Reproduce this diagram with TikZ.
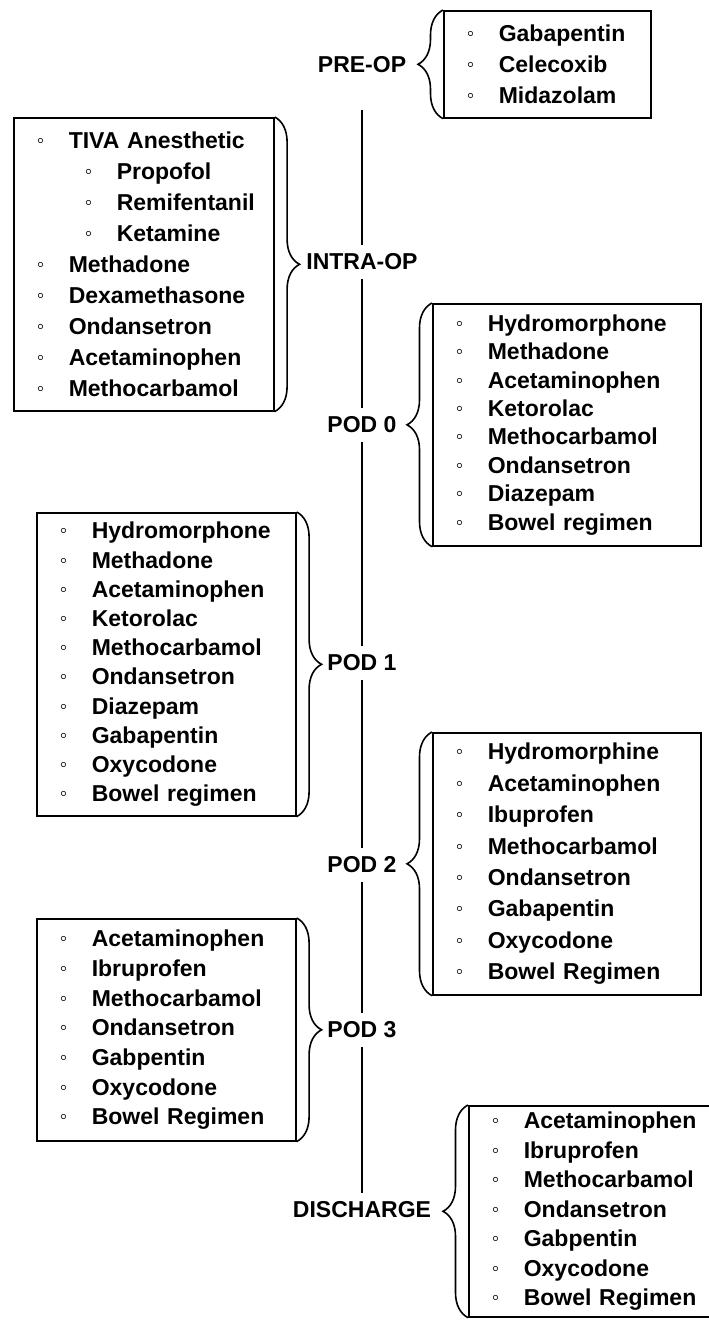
\documentclass[tikz,border=0pt]{standalone}
\usepackage{fontspec}
\setmainfont{Liberation Sans}
\usetikzlibrary{decorations.pathreplacing}
\setlength{\parindent}{0pt}

\newcommand{\drug}[1]{\hspace*{23pt}\makebox[32pt][l]{\raisebox{1pt}{\fontsize{21}{21}\selectfont ◦}}#1}
\newcommand{\subdrug}[1]{\hspace*{48pt}\drug{#1}}

\begin{document}
\begin{tikzpicture}[x=1pt, y=-1pt,
    stage/.style={font=\fontsize{23}{23}\selectfont\bfseries, minimum height=34pt, inner sep=0pt},
    druglist/.style={draw, line width=1.6pt, anchor=north west, align=left, inner sep=0pt,
      font=\fontsize{23}{#1}\selectfont\bfseries},
    druglist/.default=30,
    curly/.style={line width=1.6pt, decorate, decoration={brace, amplitude=25pt}},
    timeline/.style={line width=2pt}]
  \useasboundingbox (0,0) rectangle (709,1320);
  \clip (0,0) rectangle (709,1320);
  % stages on the time line
  \node[stage] (pre) at (362,65) {PRE-OP};
  \node[stage] (intra) at (362,262) {INTRA-OP};
  \node[stage] (pod0) at (362,425) {POD 0};
  \node[stage] (pod1) at (362,663) {POD 1};
  \node[stage] (pod2) at (362,865) {POD 2};
  \node[stage] (pod3) at (362,1030) {POD 3};
  \node[stage] (dis) at (362,1210) {DISCHARGE};
  \draw[timeline, shorten <=28pt] (pre) -- (intra);
  \draw[timeline] (intra) -- (pod0);
  \draw[timeline] (pod0) -- (pod1);
  \draw[timeline] (pod1) -- (pod2);
  \draw[timeline] (pod2) -- (pod3);
  \draw[timeline] (pod3) -- (dis);
  % pre-op
  \node[druglist=31, text width=207pt, minimum height=107pt] (preBox) at (443,10)
    {\drug{Gabapentin}\\\drug{Celecoxib}\\\drug{Midazolam}};
  \draw[curly] (preBox.south west) -- (preBox.north west);
  % intra-op
  \node[druglist=30.9, text width=260pt, minimum height=293pt] (intraBox) at (13,117)
    {\drug{TIVA Anesthetic}\\\subdrug{Propofol}\\\subdrug{Remifentanil}\\\subdrug{Ketamine}\\
     \drug{Methadone}\\\drug{Dexamethasone}\\\drug{Ondansetron}\\\drug{Acetaminophen}\\
     \drug{Methocarbamol}};
  \draw[curly] (intraBox.north east) -- (intraBox.south east);
  % pod 0
  \node[druglist=28.4, text width=268pt, minimum height=242pt] (pod0Box) at (432,303)
    {\drug{Hydromorphone}\\\drug{Methadone}\\\drug{Acetaminophen}\\\drug{Ketorolac}\\
     \drug{Methocarbamol}\\\drug{Ondansetron}\\\drug{Diazepam}\\\drug{Bowel regimen}};
  \draw[curly] (pod0Box.south west) -- (pod0Box.north west);
  % pod 1
  \node[druglist=29.2, text width=259pt, minimum height=303pt] (pod1Box) at (36,512)
    {\drug{Hydromorphone}\\\drug{Methadone}\\\drug{Acetaminophen}\\\drug{Ketorolac}\\
     \drug{Methocarbamol}\\\drug{Ondansetron}\\\drug{Diazepam}\\\drug{Gabapentin}\\
     \drug{Oxycodone}\\\drug{Bowel regimen}};
  \draw[curly] (pod1Box.north east) -- (pod1Box.south east);
  % pod 2
  \node[druglist=31.4, text width=268pt, minimum height=262pt] (pod2Box) at (432,732)
    {\drug{Hydromorphine}\\\drug{Acetaminophen}\\\drug{Ibuprofen}\\\drug{Methocarbamol}\\
     \drug{Ondansetron}\\\drug{Gabapentin}\\\drug{Oxycodone}\\\drug{Bowel Regimen}};
  \draw[curly] (pod2Box.south west) -- (pod2Box.north west);
  % pod 3
  \node[druglist=29.7, text width=259pt, minimum height=222pt] (pod3Box) at (36,918)
    {\drug{Acetaminophen}\\\drug{Ibruprofen}\\\drug{Methocarbamol}\\\drug{Ondansetron}\\
     \drug{Gabpentin}\\\drug{Oxycodone}\\\drug{Bowel Regimen}};
  \draw[curly] (pod3Box.north east) -- (pod3Box.south east);
  % discharge
  \node[druglist=29.5, text width=260pt, minimum height=211pt] (disBox) at (468,1105)
    {\drug{Acetaminophen}\\\drug{Ibruprofen}\\\drug{Methocarbamol}\\\drug{Ondansetron}\\
     \drug{Gabpentin}\\\drug{Oxycodone}\\\drug{Bowel Regimen}};
  \draw[curly] (disBox.south west) -- (disBox.north west);
\end{tikzpicture}
\end{document}
